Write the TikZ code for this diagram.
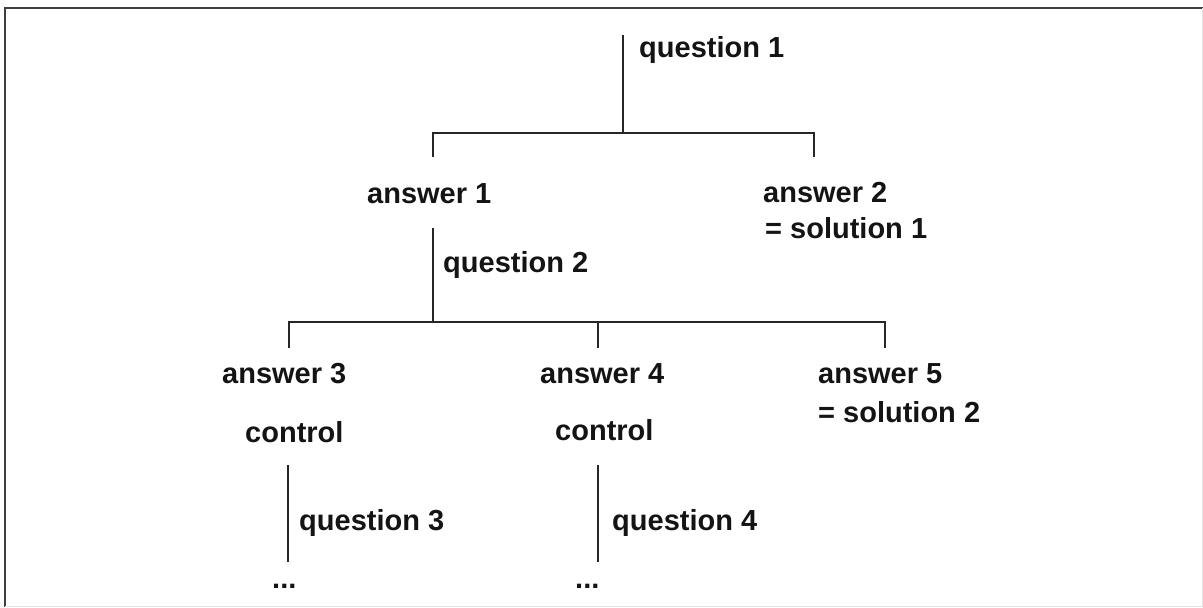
\documentclass[tikz,border=0pt]{standalone}
\usepackage{fontspec}
\setmainfont{Liberation Sans}
\begin{document}
\begin{tikzpicture}[x=1pt,y=-1pt,
  lbl/.style={anchor=base west,inner sep=0pt,text=black!92,font=\fontsize{29}{34}\selectfont\bfseries},
  branch/.style={line width=1.5pt,draw=black!85},
  frame/.style={line width=2.2pt,draw=black!75}]
\useasboundingbox (0,0) rectangle (1203,608);
% outer frame: strong top and left edges, faint right and bottom
\draw[frame] (5,607) -- (5,8) -- (1203,8);
\draw[line width=1pt,black!10] (1202,8) -- (1202,606) -- (5,606);

% labels (positioned by their baselines)
\node[lbl] (q1) at (639,57) {question 1};
\node[lbl] (a1) at (367,203) {answer 1};
\node[lbl] (a2) at (763,202) {answer 2};
\node[lbl] (s1) at (765,238) {= solution 1};
\node[lbl] (q2) at (443,272) {question 2};
\node[lbl] (a3) at (222,383) {answer 3};
\node[lbl] (a4) at (540,383) {answer 4};
\node[lbl] (a5) at (818,383) {answer 5};
\node[lbl] (s2) at (818,422) {= solution 2};
\node[lbl] (c3) at (245,442) {control};
\node[lbl] (c4) at (555,440) {control};
\node[lbl] (q3) at (299,530) {question 3};
\node[lbl] (q4) at (612,530) {question 4};
\node[lbl] (d3) at (272,588) {...};
\node[lbl] (d4) at (575,588) {...};

% first branching: question 1
\coordinate (r1) at (623,35);
\coordinate (j1) at (623,133);
\coordinate (l1) at (433,133);
\coordinate (l1e) at (433,157);
\coordinate (r1b) at (814,133);
\coordinate (r1e) at (814,157);
\draw[branch] (r1) -- (j1);
\draw[branch] (l1e) -- (l1) -- (r1b) -- (r1e);

% second branching: question 2
\coordinate (r2) at (433,228);
\coordinate (j2) at (433,322);
\coordinate (l2) at (289,322);
\coordinate (l2e) at (289,348);
\coordinate (m2) at (598,322);
\coordinate (m2e) at (598,348);
\coordinate (r2b) at (885,322);
\coordinate (r2e) at (885,348);
\draw[branch] (r2) -- (j2);
\draw[branch] (l2e) -- (l2) -- (r2b) -- (r2e);
\draw[branch] (m2) -- (m2e);

% follow-up questions after the controls
\coordinate (t3) at (288,465);
\coordinate (b3) at (288,562);
\coordinate (t4) at (598,465);
\coordinate (b4) at (598,562);
\draw[branch] (t3) -- (b3);
\draw[branch] (t4) -- (b4);
\end{tikzpicture}
\end{document}
